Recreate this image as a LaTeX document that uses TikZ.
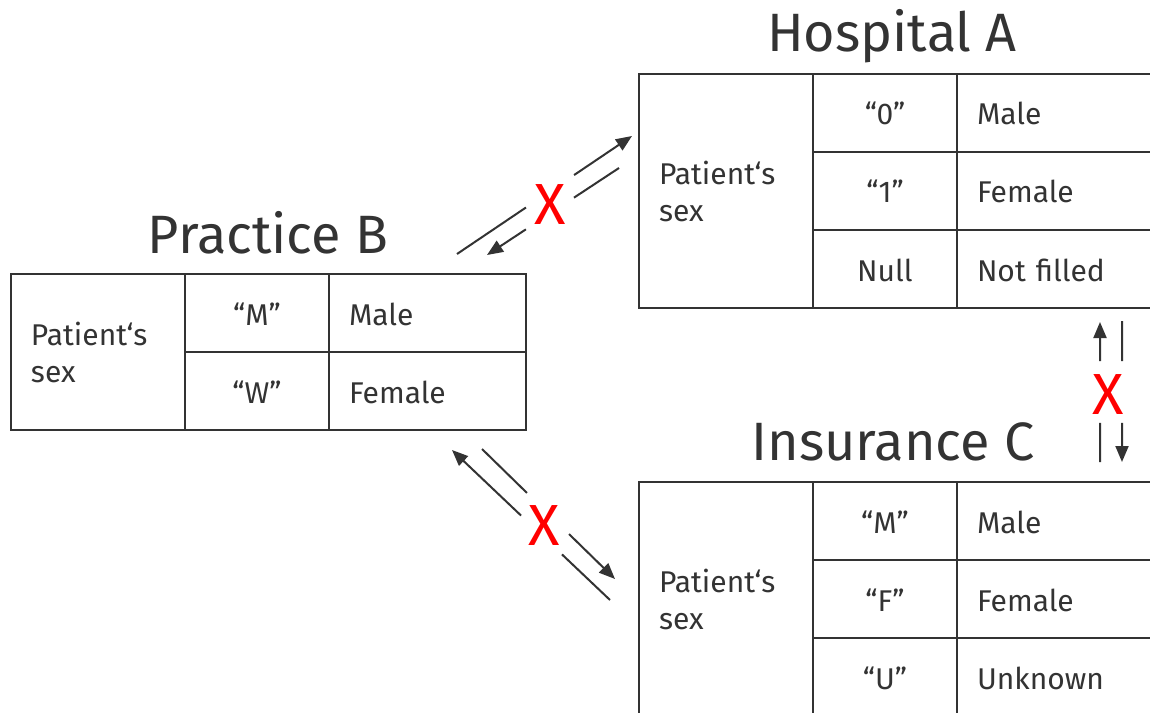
\documentclass[tikz,border=0pt]{standalone}
\usepackage{fontspec}
\setmainfont{Fira Sans}
\usetikzlibrary{arrows.meta,calc}
\definecolor{ink}{HTML}{333333}
\definecolor{xred}{HTML}{FF0000}
\begin{document}
\begin{tikzpicture}[x=1bp,y=-1bp,
  cell/.style={draw=ink,line width=2.5bp,inner sep=0pt,text=ink,font=\fontsize{30bp}{37bp}\selectfont},
  codecell/.style={cell,minimum width=144bp,minimum height=78bp,text height=24bp,text depth=0pt,align=center},
  valcell/.style={cell,minimum height=78bp,text height=24bp,text depth=0pt,align=left,inner xsep=20bp},
  labcell/.style={cell,minimum width=174bp,align=left,inner xsep=20bp,text width=134bp},
  title/.style={text=ink,inner sep=0pt,anchor=base,font=\fontsize{54bp}{60bp}\selectfont},
  cross/.style={text=xred,inner sep=0pt,font=\fontsize{58bp}{60bp}\selectfont},
  link/.style={draw=ink,line width=2bp},
  tip/.style={-{Triangle[length=16bp,width=13bp]}}
]
\useasboundingbox (0,0) rectangle (1150,713);
\clip (0,0) rectangle (1150,713);

% Titles
\node[title] (tA) at (892,52) {Hospital A};
\node[title] (tB) at (268,253) {Practice B};
\node[title] (tC) at (893,460) {Insurance C};

% Hospital A
\node[labcell,minimum height=234bp] (hL) at (726,191) {Patient‘s\\sex};
\node[codecell] (h1) at (885,113) {“0”};
\node[codecell] (h2) at (885,191) {“1”};
\node[codecell] (h3) at (885,269) {Null};
\node[valcell,text width=253bp] (hv1) at (1103.5,113) {Male};
\node[valcell,text width=253bp] (hv2) at (1103.5,191) {Female};
\node[valcell,text width=253bp] (hv3) at (1103.5,269) {Not filled};

% Practice B
\node[labcell,minimum height=156bp] (pL) at (98,352) {Patient‘s\\sex};
\node[codecell] (p1) at (257,313) {“M”};
\node[codecell] (p2) at (257,391) {“W”};
\node[valcell,text width=157bp] (pv1) at (427.5,313) {Male};
\node[valcell,text width=157bp] (pv2) at (427.5,391) {Female};

% Insurance C
\node[labcell,minimum height=234bp] (iL) at (726,599) {Patient‘s\\sex};
\node[codecell] (i1) at (885,521) {“M”};
\node[codecell] (i2) at (885,599) {“F”};
\node[codecell] (i3) at (885,677) {“U”};
\node[valcell,text width=253bp] (iv1) at (1103.5,521) {Male};
\node[valcell,text width=253bp] (iv2) at (1103.5,599) {Female};
\node[valcell,text width=253bp] (iv3) at (1103.5,677) {Unknown};

% Crosses
\node[cross] (x1) at (550,205) {X};
\node[cross] (x2) at (1108,395) {X};
\node[cross] (x3) at (544,526) {X};

% Practice B <-> Hospital A
\coordinate (a1) at (457,254);
\coordinate (a2) at (632,136);
\coordinate (b1) at (619,168);
\coordinate (b2) at (487,255);
\draw[link] (a1) -- ($(a1)!0.394!(a2)$);
\draw[link,tip] ($(a1)!0.669!(a2)$) -- (a2);
\draw[link] (b1) -- ($(b1)!0.341!(b2)$);
\draw[link,tip] ($(b1)!0.705!(b2)$) -- (b2);

% Hospital A <-> Insurance C
\coordinate (c1) at (1100,462);
\coordinate (c2) at (1100,322);
\coordinate (d1) at (1122,321);
\coordinate (d2) at (1122,462);
\draw[link] (c1) -- ($(c1)!0.279!(c2)$);
\draw[link,tip] ($(c1)!0.721!(c2)$) -- (c2);
\draw[link] (d1) -- ($(d1)!0.284!(d2)$);
\draw[link,tip] ($(d1)!0.723!(d2)$) -- (d2);

% Practice B <-> Insurance C
\coordinate (e1) at (610,600);
\coordinate (e2) at (452,450);
\coordinate (f1) at (482,449);
\coordinate (f2) at (615,579);
\draw[link] (e1) -- ($(e1)!0.304!(e2)$);
\draw[link,tip] ($(e1)!0.563!(e2)$) -- (e2);
\draw[link] (f1) -- ($(f1)!0.338!(f2)$);
\draw[link,tip] ($(f1)!0.654!(f2)$) -- (f2);
\end{tikzpicture}
\end{document}
